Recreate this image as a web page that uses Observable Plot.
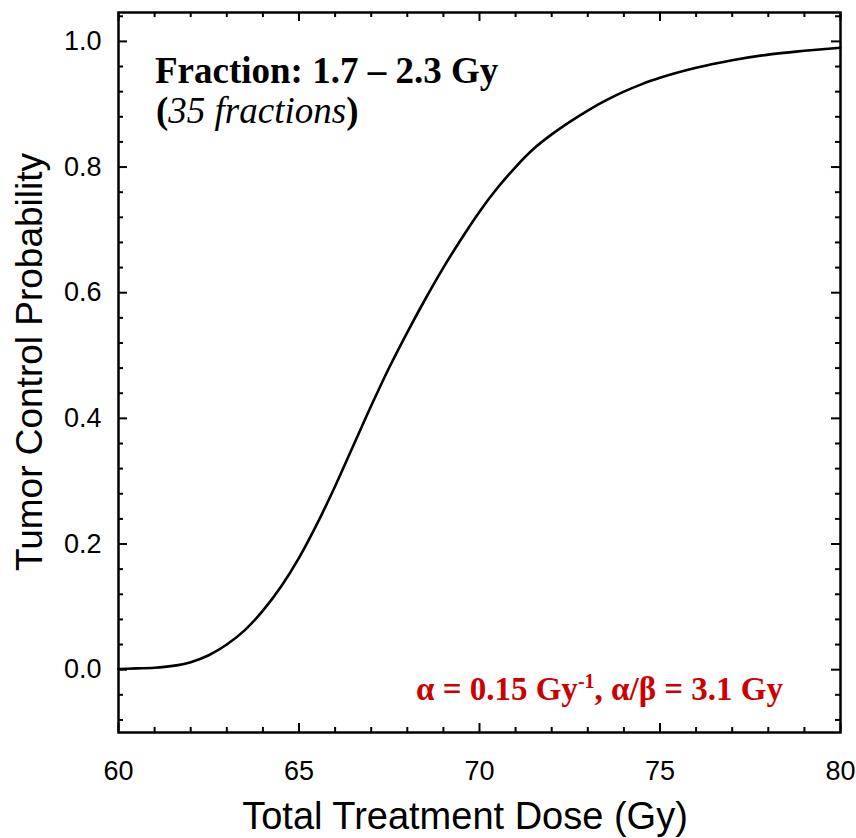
<!DOCTYPE html>
<html>
<head>
<meta charset="utf-8">
<script src="https://cdn.jsdelivr.net/npm/d3@7"></script>
<script src="https://cdn.jsdelivr.net/npm/@observablehq/plot@0.6"></script>
<style>
  html, body { margin: 0; padding: 0; background: #fff; }
  #chart { width: 856px; height: 838px; }
</style>
</head>
<body>
<div id="chart"></div>
<script>
// Data
const doses = [60, 60.5, 61, 61.5, 62, 62.5, 63, 63.5, 64, 64.5, 65, 65.5, 66, 66.5, 67, 67.5, 68, 68.5, 69, 69.5, 70, 70.5, 71, 71.5, 72, 72.5, 73, 73.5, 74, 74.5, 75, 76, 77, 78, 79, 80];
const tcp   = [0.001, 0.002, 0.003, 0.006, 0.012, 0.023, 0.040, 0.063, 0.094, 0.132, 0.178, 0.232, 0.292, 0.356, 0.420, 0.481, 0.537, 0.590, 0.640, 0.686, 0.729, 0.767, 0.800, 0.829, 0.852, 0.872, 0.890, 0.906, 0.920, 0.932, 0.942, 0.958, 0.970, 0.979, 0.985, 0.990];
const xMajor = [60, 65, 70, 75, 80];
const xMinor = [61, 62, 63, 64, 66, 67, 68, 69, 71, 72, 73, 74, 76, 77, 78, 79];
const yMajor = [0, 0.2, 0.4, 0.6, 0.8, 1.0];
const yMinor = [-0.08, -0.04, 0.04, 0.08, 0.12, 0.16, 0.24, 0.28, 0.32, 0.36, 0.44, 0.48, 0.52, 0.56, 0.64, 0.68, 0.72, 0.76, 0.84, 0.88, 0.92, 0.96, 1.04];
const xTitle = "Total Treatment Dose (Gy)";
const yTitle = "Tumor Control Probability";

const data = doses.map((d, i) => ({dose: d, tcp: tcp[i]}));
const sans = "Liberation Sans, Arial, Helvetica, sans-serif";
const serif = "Liberation Serif, Times New Roman, serif";

const W = 856, H = 838;
const mL = 118, mR = 16, mT = 12, mB = 106;
const pw = W - mL - mR, ph = H - mT - mB;
const major = 9, minor = 5, tw = 2;

const chart = Plot.plot({
  width: W, height: H,
  marginLeft: mL, marginRight: mR, marginTop: mT, marginBottom: mB,
  style: {fontFamily: sans, fontSize: "27px", color: "#000", background: "#fff"},
  x: {domain: [60, 80], label: null},
  y: {domain: [-0.1, 1.046], label: null},
  marks: [
    // inward ticks on all four sides
    Plot.tickX(xMajor, {x: d => d, insetTop: ph - major, stroke: "#000", strokeWidth: tw}),
    Plot.tickX(xMinor, {x: d => d, insetTop: ph - minor, stroke: "#000", strokeWidth: tw}),
    Plot.tickX(xMajor, {x: d => d, insetBottom: ph - major, stroke: "#000", strokeWidth: tw}),
    Plot.tickX(xMinor, {x: d => d, insetBottom: ph - minor, stroke: "#000", strokeWidth: tw}),
    Plot.tickY(yMajor, {y: d => d, insetRight: pw - major, stroke: "#000", strokeWidth: tw}),
    Plot.tickY(yMinor, {y: d => d, insetRight: pw - minor, stroke: "#000", strokeWidth: tw}),
    Plot.tickY(yMajor, {y: d => d, insetLeft: pw - major, stroke: "#000", strokeWidth: tw}),
    Plot.tickY(yMinor, {y: d => d, insetLeft: pw - minor, stroke: "#000", strokeWidth: tw}),
    // tick labels
    Plot.axisX(xMajor, {anchor: "bottom", tickSize: 0, tickPadding: 28, tickFormat: d => String(d), fontSize: 27}),
    Plot.axisY(yMajor, {anchor: "left", tickSize: 0, tickPadding: 17, tickFormat: d => d.toFixed(1), fontSize: 27}),
    Plot.frame({stroke: "#000", strokeWidth: 2.5}),
    Plot.line(data, {x: "dose", y: "tcp", curve: "monotone-x", stroke: "#000", strokeWidth: 2.6})
  ]
});

const svg = d3.select(chart);

// Axis titles
svg.append("text")
  .attr("x", 465).attr("y", 829)
  .attr("text-anchor", "middle").attr("font-family", sans).attr("font-size", 38).attr("fill", "#000")
  .text(xTitle);
svg.append("text")
  .attr("transform", `translate(42,362) rotate(-90)`)
  .attr("text-anchor", "middle").attr("font-family", sans).attr("font-size", 37).attr("fill", "#000")
  .text(yTitle);

// Annotations
const t1 = svg.append("text").attr("x", 155).attr("y", 83).attr("text-anchor", "start")
  .attr("font-family", serif).attr("font-size", 37).attr("font-weight", "bold").attr("fill", "#000");
t1.text("Fraction: 1.7 \u2013 2.3 Gy");

const t2 = svg.append("text").attr("x", 156).attr("y", 123).attr("text-anchor", "start")
  .attr("font-family", serif).attr("font-size", 37).attr("fill", "#000");
t2.append("tspan").attr("font-weight", "bold").text("(");
t2.append("tspan").attr("font-style", "italic").text("35 fractions");
t2.append("tspan").attr("font-weight", "bold").text(")");

const t3 = svg.append("text").attr("x", 783).attr("y", 700).attr("text-anchor", "end")
  .attr("font-family", serif).attr("font-size", 33).attr("font-weight", "bold").attr("fill", "#cc0000");
t3.append("tspan").text("\u03b1 = 0.15 Gy");
t3.append("tspan").attr("font-size", 20).attr("dy", -12).text("-1");
t3.append("tspan").attr("dy", 12).text(", \u03b1/\u03b2 = 3.1 Gy");

document.getElementById("chart").appendChild(chart);
</script>
</body>
</html>
